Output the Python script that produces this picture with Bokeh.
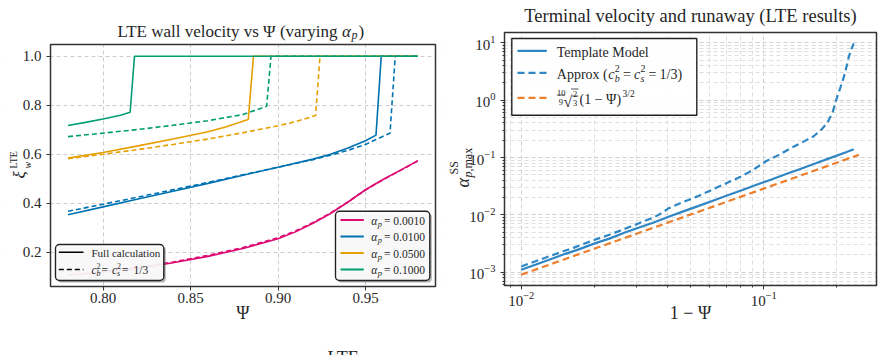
import math

from bokeh.core.properties import field, value
from bokeh.embed import file_html
from bokeh.layouts import row
from bokeh.models import ColumnDataSource, FixedTicker, NumeralTickFormatter, Range1d
from bokeh.plotting import figure
from bokeh.resources import INLINE

SERIF = "Liberation Serif"
INK = "#262626"
EDGE = "#333333"

# ---------------- LTE wall velocity vs Psi (four values of alpha_p) ----------------
alpha_values = ["0.0010", "0.0100", "0.0500", "0.1000"]
alpha_colors = ["#dc0a72", "#0072b2", "#e69f00", "#009e73"]

psi_a1 = [0.78, 0.80, 0.82, 0.84, 0.86, 0.88, 0.90, 0.91, 0.92, 0.93, 0.94, 0.95, 0.96, 0.97, 0.98]
xi_a1_full = [0.105, 0.118, 0.134, 0.157, 0.183, 0.215, 0.255, 0.283, 0.318, 0.358, 0.405, 0.455, 0.497, 0.535, 0.574]
xi_a1_approx = [0.107, 0.121, 0.137, 0.160, 0.187, 0.219, 0.259, 0.287, 0.321, 0.360, 0.405, 0.454, 0.496, 0.534, 0.573]

psi_a2_full = [0.78, 0.80, 0.82, 0.84, 0.86, 0.88, 0.90, 0.92, 0.93, 0.94, 0.95, 0.956, 0.959, 0.98]
xi_a2_full = [0.353, 0.385, 0.417, 0.449, 0.481, 0.514, 0.547, 0.580, 0.600, 0.625, 0.655, 0.678, 1.0, 1.0]
psi_a2_approx = [0.78, 0.80, 0.82, 0.84, 0.86, 0.88, 0.90, 0.92, 0.93, 0.94, 0.95, 0.956, 0.964, 0.967, 0.98]
xi_a2_approx = [0.367, 0.396, 0.425, 0.455, 0.485, 0.516, 0.547, 0.578, 0.596, 0.616, 0.640, 0.660, 0.686, 1.0, 1.0]

psi_a3_full = [0.78, 0.80, 0.82, 0.84, 0.86, 0.87, 0.883, 0.886, 0.98]
xi_a3_full = [0.584, 0.607, 0.634, 0.662, 0.692, 0.711, 0.742, 1.0, 1.0]
psi_a3_approx = [0.78, 0.80, 0.82, 0.84, 0.86, 0.88, 0.90, 0.91, 0.9215, 0.924, 0.98]
xi_a3_approx = [0.582, 0.600, 0.619, 0.640, 0.662, 0.688, 0.716, 0.733, 0.758, 1.0, 1.0]

psi_a4_full = [0.78, 0.79, 0.80, 0.81, 0.8155, 0.818, 0.98]
xi_a4_full = [0.717, 0.730, 0.744, 0.759, 0.771, 1.0, 1.0]
psi_a4_approx = [0.78, 0.80, 0.82, 0.84, 0.86, 0.88, 0.8935, 0.896, 0.98]
xi_a4_approx = [0.672, 0.686, 0.701, 0.718, 0.737, 0.762, 0.796, 1.0, 1.0]

wall_curves = [
    (psi_a1, xi_a1_full, psi_a1, xi_a1_approx),
    (psi_a2_full, xi_a2_full, psi_a2_approx, xi_a2_approx),
    (psi_a3_full, xi_a3_full, psi_a3_approx, xi_a3_approx),
    (psi_a4_full, xi_a4_full, psi_a4_approx, xi_a4_approx),
]

# ---------------- terminal velocity / runaway bound ----------------
one_minus_psi = [0.0100, 0.0115, 0.0132, 0.0152, 0.0175, 0.0201, 0.0231, 0.0266, 0.0306, 0.0352,
                 0.0405, 0.0466, 0.0536, 0.0617, 0.0710, 0.0817, 0.0940, 0.1082, 0.1245, 0.1433,
                 0.1649, 0.1898, 0.2184, 0.2350]
alpha_template = [0.00110, 0.00136, 0.00168, 0.00209, 0.00255, 0.00318, 0.00385, 0.00488, 0.00601, 0.00738,
                  0.00925, 0.01150, 0.01420, 0.01765, 0.02195, 0.02720, 0.03375, 0.04190, 0.05200, 0.06450,
                  0.08000, 0.09950, 0.12380, 0.13900]

one_minus_psi_approx = [0.0100, 0.0132, 0.0165, 0.0201, 0.0231, 0.0266, 0.0306, 0.0352, 0.0380, 0.0405,
                        0.0466, 0.0536, 0.0584, 0.0684, 0.0801, 0.0900, 0.1016, 0.1150, 0.1330, 0.1480,
                        0.1607, 0.1720, 0.1827, 0.1920, 0.2010, 0.2080, 0.2140, 0.2200, 0.2243, 0.2300, 0.2350]
alpha_approx = [0.00126, 0.00193, 0.00268, 0.00368, 0.00450, 0.00565, 0.00715, 0.00900, 0.01080, 0.01300,
                0.01680, 0.02120, 0.02500, 0.03400, 0.04600, 0.06000, 0.08500, 0.11000, 0.15500, 0.19500,
                0.23500, 0.30000, 0.40000, 0.60000, 1.15000, 1.75000, 2.55000, 4.00000, 5.70000, 7.80000, 9.80000]

one_minus_psi_bound = [0.0100, 0.0200, 0.0500, 0.1000, 0.2466]
alpha_bound = [0.000907, 0.002566, 0.010143, 0.028689, 0.1111]

TEMPLATE_BLUE = "#2f86c3"
BOUND_ORANGE = "#ec7f2d"

CANVAS_H = 355
VERTICAL = math.pi / 2


# ---------------- helpers ----------------
def lin_mapper(x0, x1, y0, y1, w, h):
    """Pixel offsets from the axes box's top-left corner -> data coordinates."""
    def f(fx, fy):
        return x0 + fx / w * (x1 - x0), y1 - fy / h * (y1 - y0)
    return f


def log_mapper(x0, x1, y0, y1, w, h):
    lx0, lx1, ly0, ly1 = (math.log10(v) for v in (x0, x1, y0, y1))

    def f(fx, fy):
        return 10 ** (lx0 + fx / w * (lx1 - lx0)), 10 ** (ly1 - fy / h * (ly1 - ly0))
    return f


def make_figure(width, box, mapper, **kw):
    """Figure whose frame fills the canvas; box = (left, top, w, h) of the axes box in canvas pixels."""
    bl, bt, bw, bh = box
    xs, ye = mapper(-bl, -bt)
    xe, ys = mapper(width - bl, CANVAS_H - bt)
    p = figure(width=width, height=CANVAS_H, x_range=Range1d(xs, xe), y_range=Range1d(ys, ye),
               output_backend="svg", toolbar_location=None, title=None,
               min_border=0, min_border_left=0, min_border_right=0, min_border_top=0, min_border_bottom=0,
               **kw)
    p.outline_line_color = None
    p.background_fill_color = "white"
    p.border_fill_color = "white"
    return p


def style_axes(p, x_at, y_at):
    p.xaxis.fixed_location = x_at
    p.yaxis.fixed_location = y_at
    for ax in (p.xaxis[0], p.yaxis[0]):
        ax.axis_line_color = None
        ax.major_tick_out = 4
        ax.major_tick_in = 0
        ax.major_tick_line_color = EDGE
        ax.minor_tick_out = 2
        ax.minor_tick_in = 0
        ax.minor_tick_line_color = EDGE
        ax.major_label_text_font = SERIF
        ax.major_label_text_font_size = "15px"
        ax.major_label_text_color = INK
    p.xaxis.major_label_standoff = 2
    p.yaxis.major_label_standoff = 5


def cover_margins(p, mapper, box, width):
    """White margins around the axes box, hiding grid lines outside it."""
    bl, bt, bw, bh = box
    rects = [(-bl, 0, -bt, CANVAS_H - bt), (bw, width - bl, -bt, CANVAS_H - bt),
             (0, bw, -bt, 0), (0, bw, bh, CANVAS_H - bt)]
    L, R, T, B = [], [], [], []
    for fl, fr, ft, fb in rects:
        l, t = mapper(fl, ft)
        r, b = mapper(fr, fb)
        L.append(l); R.append(r); T.append(t); B.append(b)
    p.quad(left=L, right=R, top=T, bottom=B, fill_color="white", line_color=None)


def draw_box_edge(p, mapper, box):
    bl, bt, bw, bh = box
    l, t = mapper(0, 0)
    r, b = mapper(bw, bh)
    p.quad(left=[l], right=[r], top=[t], bottom=[b], fill_color=None, line_color=EDGE, line_width=1.5)


def add_pieces(p, pieces, mapper, align="left", angle=0.0):
    """pieces: (box_x, box_y_baseline, text, size_px, style); baselines are lifted a little
    (along the text's own vertical) so the glyphs sit on the intended line."""
    xs, ys, texts, sizes, styles = [], [], [], [], []
    for fx, fy, t, s, st in pieces:
        lift = 1.5 + 0.15 * s
        if angle == 0.0:
            fy -= lift
        else:
            fx -= lift
        x, y = mapper(fx, fy)
        xs.append(x)
        ys.append(y)
        texts.append(t)
        sizes.append(f"{s}px")
        styles.append(st)
    src = ColumnDataSource(dict(x=xs, y=ys, text=texts, size=sizes, style=styles))
    p.text(x="x", y="y", text="text", source=src, text_font=value(SERIF),
           text_font_size=field("size"), text_font_style=field("style"), angle=angle,
           text_color=INK, text_align=align, text_baseline="alphabetic")


def add_box(p, mapper, fl, fr, ft, fb, radius, shadow):
    if shadow:
        l, t = mapper(fl + 2, ft + 2)
        r, b = mapper(fr + 2, fb + 2)
        p.quad(left=[l], right=[r], top=[t], bottom=[b], fill_color="#555555", fill_alpha=0.45,
               line_color=None, border_radius=radius)
    l, t = mapper(fl, ft)
    r, b = mapper(fr, fb)
    p.quad(left=[l], right=[r], top=[t], bottom=[b], fill_color="white", fill_alpha=0.9,
           line_color="#222222", line_width=1.4, border_radius=radius)


def add_sample(p, mapper, fx0, fx1, fy, **kw):
    (x0, y0), (x1, y1) = mapper(fx0, fy), mapper(fx1, fy)
    p.line([x0, x1], [y0, y1], **kw)


# ================= left panel =================
LX0, LX1, LY0, LY1 = 0.77, 0.99, 0.06, 1.048
L_BOX = (50, 44, 385, 242)
m1 = lin_mapper(LX0, LX1, LY0, LY1, L_BOX[2], L_BOX[3])
p1 = make_figure(440, L_BOX, m1)
style_axes(p1, LY0, LX0)
p1.xaxis.ticker = FixedTicker(ticks=[0.80, 0.85, 0.90, 0.95])
p1.yaxis.ticker = FixedTicker(ticks=[0.2, 0.4, 0.6, 0.8, 1.0])
p1.xaxis.formatter = NumeralTickFormatter(format="0.00")
p1.yaxis.formatter = NumeralTickFormatter(format="0.0")
for g in (p1.xgrid[0], p1.ygrid[0]):
    g.grid_line_color = "#cccccc"
    g.grid_line_dash = "4 3"
    g.grid_line_width = 1

cover_margins(p1, m1, L_BOX, 440)
for color, (xf, yf, xa, ya) in zip(alpha_colors, wall_curves):
    p1.line(xf, yf, line_color=color, line_width=1.6)
    p1.line(xa, ya, line_color=color, line_width=1.6, line_dash="5 3")
draw_box_edge(p1, m1, L_BOX)

# legend: line styles
add_box(p1, m1, 5, 113.3, 200, 236, 4, True)
r1, r2 = 207.7, 225.0
add_sample(p1, m1, 8.3, 33, r1, line_color="black", line_width=1.6)
add_sample(p1, m1, 8.3, 33, r2, line_color="black", line_width=1.6, line_dash="5 3")
add_pieces(p1, [
    (41, r1 + 4, "Full calculation", 11, "normal"),
    (41, r2 + 4, "c", 11.5, "italic"),
    (46, r2 + 6.5, "b", 8, "italic"),
    (46, r2 - 0.5, "2", 8, "normal"),
    (51, r2 + 4, "=", 11.5, "normal"),
    (61.5, r2 + 4, "c", 11.5, "italic"),
    (66.5, r2 + 6.5, "s", 8, "italic"),
    (66.5, r2 - 0.5, "2", 8, "normal"),
    (71.5, r2 + 4, "=", 11.5, "normal"),
    (83, r2 + 4, "1/3", 11.5, "normal"),
], m1)

# legend: alpha_p colours
add_box(p1, m1, 285, 379.3, 166.7, 236, 4, True)
rows_alpha = [175.5, 192.0, 208.5, 225.0]
alpha_pieces = []
for ry, color, lab in zip(rows_alpha, alpha_colors, alpha_values):
    add_sample(p1, m1, 290, 313.3, ry, line_color=color, line_width=2)
    alpha_pieces += [
        (320.7, ry + 4, "α", 11.5, "italic"),
        (327.2, ry + 6.5, "p", 8.5, "italic"),
        (333.5, ry + 4, "= " + lab, 11.5, "normal"),
    ]
add_pieces(p1, alpha_pieces, m1)

# title, axis labels
add_pieces(p1, [(287, -9, "LTE wall velocity vs Ψ (varying", 17, "normal")], m1, align="right")
add_pieces(p1, [
    (291.5, -9, "α", 17, "italic"),
    (301, -6, "p", 12, "italic"),
    (308, -9, ")", 17, "normal"),
], m1)
add_pieces(p1, [(192.5, 272.5, "Ψ", 18, "normal")], m1, align="center")
add_pieces(p1, [
    (-27, 134, "ξ", 17, "italic"),
    (-20, 124, "w", 10, "italic"),
    (-34.5, 124, "LTE", 10, "normal"),
], m1, angle=VERTICAL)
# heading of the next figure, peeking in at the bottom edge
add_pieces(p1, [(277, 318, "LTE", 18, "normal")], m1)

# ================= right panel =================
RX0, RX1 = 10 ** -2.069, 10 ** -0.535
RY0, RY1 = 10 ** -3.232, 10 ** 1.18
R_BOX = (64, 32, 372, 253)
m2 = log_mapper(RX0, RX1, RY0, RY1, R_BOX[2], R_BOX[3])
p2 = make_figure(443, R_BOX, m2, x_axis_type="log", y_axis_type="log")
style_axes(p2, RY0, RX0)
p2.xaxis.ticker = FixedTicker(
    ticks=[1e-2, 1e-1],
    minor_ticks=[v for v in (k * 10.0 ** e for e in (-3, -2, -1) for k in range(2, 10)) if RX0 < v < RX1])
p2.yaxis.ticker = FixedTicker(
    ticks=[1e-3, 1e-2, 1e-1, 1e0, 1e1],
    minor_ticks=[v for v in (k * 10.0 ** e for e in range(-4, 2) for k in range(2, 10)) if RY0 < v < RY1])
for g in (p2.xgrid[0], p2.ygrid[0]):
    g.grid_line_color = "#cfcfcf"
    g.grid_line_dash = "4 3"
    g.minor_grid_line_color = "#dedede"
    g.minor_grid_line_dash = "4 3"

cover_margins(p2, m2, R_BOX, 443)
p2.line(one_minus_psi, alpha_template, line_color=TEMPLATE_BLUE, line_width=2.2)
p2.line(one_minus_psi_approx, alpha_approx, line_color=TEMPLATE_BLUE, line_width=2.2, line_dash="7 4")
p2.line(one_minus_psi_bound, alpha_bound, line_color=BOUND_ORANGE, line_width=2.2, line_dash="7 4")
draw_box_edge(p2, m2, R_BOX)

add_box(p2, m2, 7.3, 192.3, 6, 82.7, 0, False)
q1, q2, q3 = 18.3, 40.3, 65.3
add_sample(p2, m2, 13, 42.3, q1, line_color=TEMPLATE_BLUE, line_width=2.2)
add_sample(p2, m2, 13, 42.3, q2, line_color=TEMPLATE_BLUE, line_width=2.2, line_dash="7 4")
add_sample(p2, m2, 13, 42.3, q3, line_color=BOUND_ORANGE, line_width=2.2, line_dash="7 4")
add_pieces(p2, [
    (52.3, q1 + 5, "Template Model", 14, "normal"),
    (52.3, q2 + 5, "Approx (", 14, "normal"),
    (103.8, q2 + 5, "c", 14, "italic"),
    (110.3, q2 + 8.5, "b", 10, "italic"),
    (110.3, q2 - 1, "2", 10, "normal"),
    (118.5, q2 + 5, "=", 14, "normal"),
    (129.5, q2 + 5, "c", 14, "italic"),
    (136, q2 + 8.5, "s", 10, "italic"),
    (136, q2 - 1, "2", 10, "normal"),
    (144, q2 + 5, "=", 14, "normal"),
    (155, q2 + 5, "1/3)", 14, "normal"),
    (52.4, 63, "10", 8.5, "normal"),
    (54.3, 72.5, "9", 8.5, "normal"),
    (59, 73, "√", 16, "normal"),
    (68.5, 64.5, "2", 8.5, "normal"),
    (68.5, 73, "3", 8.5, "normal"),
    (75, 70.5, "(1 − Ψ)", 14, "normal"),
    (118, 64, "3/2", 9.5, "normal"),
], m2)
# fraction bars and radical overline of the bound formula
add_sample(p2, m2, 52.4, 60.5, 62.5, line_color=INK, line_width=0.8)
add_sample(p2, m2, 67.8, 73.8, 63.5, line_color=INK, line_width=0.8)
add_sample(p2, m2, 66.5, 74.0, 56.5, line_color=INK, line_width=0.8)

# title, axis labels
add_pieces(p2, [(186, -12, "Terminal velocity and runaway (LTE results)", 18.5, "normal"),
                (186, 284.5, "1 − Ψ", 18, "normal")], m2, align="center")
add_pieces(p2, [
    (-37, 155, "α", 18, "italic"),
    (-33.5, 145, "p", 12, "italic"),
    (-33.5, 139, ",max", 12, "normal"),
    (-47, 142, "SS", 12, "normal"),
], m2, angle=VERTICAL)

open("out.html", "w").write(file_html(row(p1, p2), INLINE))
